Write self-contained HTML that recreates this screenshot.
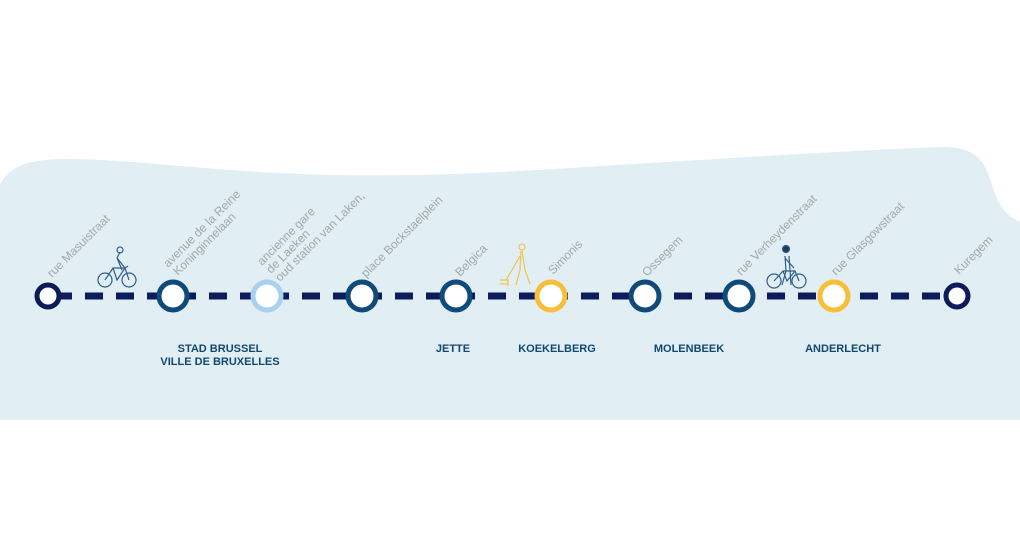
<!DOCTYPE html>
<html><head><meta charset="utf-8"><style>
html,body{margin:0;padding:0;background:#fff;width:1020px;height:560px;overflow:hidden}
svg{display:block}
.l{font-family:"Liberation Sans",sans-serif;font-size:12px;fill:#a3a7ab}
.b{font-family:"Liberation Sans",sans-serif;font-size:11px;font-weight:bold;fill:#12486f;text-anchor:middle}
</style></head><body>
<svg width="1020" height="560" viewBox="0 0 1020 560">
<path d="M0,185 C8,168 25,160 60,159 C120,158 200,170 300,174 C400,178 500,173 600,166 C700,160 820,152 940,147 C975,146 985,160 992,185 C998,205 1005,215 1020,222 L1020,420 L0,420 Z" fill="#e1eef4"/>
<line x1="48" y1="296" x2="957" y2="296" stroke="#0d1b5a" stroke-width="7" stroke-dasharray="18 13" stroke-dashoffset="-6"/>
<g fill="#fff" stroke-width="5">
<circle cx="48" cy="296" r="11" stroke="#0d1b5a"/>
<circle cx="173" cy="296" r="14" stroke="#0f4a78"/>
<circle cx="267" cy="296" r="14" stroke="#a8d0ef"/>
<circle cx="362" cy="296" r="14" stroke="#0f4a78"/>
<circle cx="456" cy="296" r="14" stroke="#0f4a78"/>
<circle cx="551" cy="296" r="14" stroke="#f5bf3a"/>
<circle cx="645" cy="296" r="14" stroke="#0f4a78"/>
<circle cx="739" cy="296" r="14" stroke="#0f4a78"/>
<circle cx="834" cy="296" r="14" stroke="#f5bf3a"/>
<circle cx="957" cy="296" r="11" stroke="#0d1b5a"/>
</g>
<g class="l">
<text transform="translate(52,278) rotate(-45)">rue Masuistraat</text>
<text transform="translate(168,268) rotate(-45)">avenue de la Reine</text>
<text transform="translate(178,276) rotate(-45)">Koninginnelaan</text>
<text transform="translate(262,266) rotate(-45)">ancienne gare</text>
<text transform="translate(271,274) rotate(-45)">de Laeken</text>
<text transform="translate(280,282) rotate(-45)">oud station van Laken,</text>
<text transform="translate(366,278) rotate(-45)">place Bockstaelplein</text>
<text transform="translate(460,277) rotate(-45)">Belgica</text>
<text transform="translate(553,275) rotate(-45)">Simonis</text>
<text transform="translate(647,277) rotate(-45)">Ossegem</text>
<text transform="translate(741,276) rotate(-45)">rue Verheydenstraat</text>
<text transform="translate(836,276) rotate(-45)">rue Glasgowstraat</text>
<text transform="translate(959,275) rotate(-45)">Kuregem</text>
</g>
<text class="b" x="220" y="352">STAD BRUSSEL</text>
<text class="b" x="220" y="365">VILLE DE BRUXELLES</text>
<text class="b" x="453" y="352">JETTE</text>
<text class="b" x="557" y="352">KOEKELBERG</text>
<text class="b" x="689" y="352">MOLENBEEK</text>
<text class="b" x="843" y="352">ANDERLECHT</text>
<g fill="none" stroke="#2f5f8a" stroke-width="1.2">
<circle cx="105" cy="280" r="7"/><circle cx="129" cy="280" r="7"/>
<path d="M105,280 L113,268 L125,268 L129,280 M113,268 L117,280 L125,268 M117,258 L122,270 M117,258 L125,268 L128,266 M117,258 L120,252"/>
<circle cx="120" cy="250" r="3"/>
<circle cx="774" cy="281" r="7"/><circle cx="799" cy="281" r="7"/>
<path d="M774,281 L783,271 L795,271 L799,281 M783,271 L787,281 L795,271 M785,256 L786,271 L782,285 M789,256 L791,285 M785,258 L794,268"/>
<circle cx="786" cy="249" r="3.5" fill="#1d3b5e"/>
</g>
<g fill="none" stroke="#f0c54a" stroke-width="1.2">
<circle cx="522" cy="247" r="3"/>
<path d="M521,251 L520,270 L516,285 M522,251 L525,270 L530,284 M520,256 L512,270 L506,280 M500,280 h8 v6 M500,284 h8"/>
</g>
</svg>
</body></html>
